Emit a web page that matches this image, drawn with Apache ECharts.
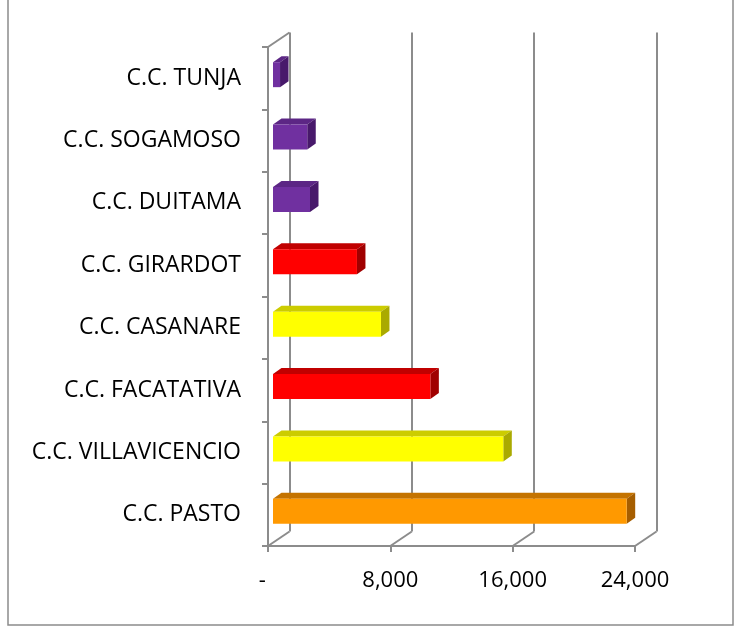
<!DOCTYPE html>
<html>
<head>
<meta charset="utf-8">
<script src="https://cdn.jsdelivr.net/npm/echarts@6/dist/echarts.min.js"></script>
<style>
html,body{margin:0;padding:0;background:#fff;}
#chart{width:740px;height:629px;}
</style>
</head>
<body>
<div id="chart"></div>
<script>
// ---- data ----
const categories = ['C.C. TUNJA','C.C. SOGAMOSO','C.C. DUITAMA','C.C. GIRARDOT','C.C. CASANARE','C.C. FACATATIVA','C.C. VILLAVICENCIO','C.C. PASTO'];
const values = [460, 2240, 2420, 5490, 7060, 10290, 15060, 23130];
const colorGroups = ['purple','purple','purple','red','yellow','red','yellow','orange'];
const xTicks = [0, 8000, 16000, 24000];

// ---- styles / layout ----
const shades = {
  purple: {front:'#7030A0', top:'#5C2685', side:'#48196B'},
  red:    {front:'#FF0000', top:'#C00000', side:'#A00000'},
  yellow: {front:'#FFFF00', top:'#CCCC00', side:'#AAAA00'},
  orange: {front:'#FF9900', top:'#C47300', side:'#A65E00'}
};
const GRID = {left:268, top:47, width:367, height:499};
const DX = 21.5, DY = -14.5;        // wall depth offset
const FDX = 5, FDY = -3.5;          // bar front face offset
const BDX = 8.5, BDY = -6;          // bar depth
const LINE = '#8C8C8C';
const FONT = 'Open Sans';

const chart = echarts.init(document.getElementById('chart'));

function fmt(v){ return v === 0 ? '-  ' : v.toLocaleString('en-US'); }

const option = {
  backgroundColor:'#fff',
  animation:false,
  graphic:[{type:'rect', shape:{x:8, y:-5, width:725, height:630}, style:{fill:'none', stroke:'#8C8C8C', lineWidth:1.5}, silent:true}],
  grid:[
    {left:GRID.left, top:GRID.top, width:GRID.width, height:GRID.height, containLabel:false, outerBoundsMode:'none'},
    {left:GRID.left+DX, top:GRID.top+DY, width:GRID.width, height:GRID.height, containLabel:false, outerBoundsMode:'none'}
  ],
  xAxis:[
    {gridIndex:0, type:'value', min:0, max:24000, interval:8000,
     axisLine:{show:true, lineStyle:{color:LINE, width:2}},
     axisTick:{show:true, length:6, lineStyle:{color:LINE, width:2}},
     splitLine:{show:false},
     axisLabel:{formatter:fmt, color:'#000', fontFamily:FONT, fontSize:22, margin:24}},
    {gridIndex:1, type:'value', min:0, max:24000, interval:8000,
     axisLine:{show:false}, axisTick:{show:false}, axisLabel:{show:false},
     splitLine:{show:true, lineStyle:{color:LINE, width:2}}}
  ],
  yAxis:[
    {gridIndex:0, type:'category', data:categories, inverse:true,
     axisLine:{show:true, lineStyle:{color:LINE, width:2}},
     axisTick:{show:true, length:6, lineStyle:{color:LINE, width:2}},
     splitLine:{show:false},
     axisLabel:{color:'#000', fontFamily:FONT, fontSize:23, margin:27, padding:[7,0,0,0]}},
    {gridIndex:1, type:'category', data:categories, inverse:true,
     axisLine:{show:false}, axisTick:{show:false}, axisLabel:{show:false}, splitLine:{show:false}}
  ],
  series:[
    {
      type:'custom', xAxisIndex:0, yAxisIndex:0, z:1,
      data: xTicks.map(v => [v, 0]),
      encode:{x:0, y:1},
      renderItem(params, api){
        const cs = params.coordSys;
        const v = api.value(0);
        const x = api.coord([v, 0])[0];
        const yb = cs.y + cs.height;
        const children = [{type:'line', shape:{x1:x, y1:yb, x2:x+DX, y2:yb+DY}, style:{stroke:LINE, lineWidth:2}}];
        if (params.dataIndex === 0) {
          children.push({type:'line', shape:{x1:x, y1:cs.y, x2:x+DX, y2:cs.y+DY}, style:{stroke:LINE, lineWidth:2}});
        }
        return {type:'group', children};
      }
    },
    {
      type:'custom', xAxisIndex:0, yAxisIndex:0, z:5,
      data: values.map((v,i) => [v, i]),
      encode:{x:0, y:1},
      renderItem(params, api){
        const v = api.value(0), i = api.value(1);
        const p0 = api.coord([0, i]);
        const p1 = api.coord([v, i]);
        const band = api.size([0, 1])[1];
        const h = band * 0.4;
        const x0 = p0[0] + FDX, x1 = p1[0] + FDX;
        const yT = p0[1] + FDY - h/2, yB = yT + h;
        const c = shades[colorGroups[i]];
        return {type:'group', children:[
          {type:'polygon', shape:{points:[[x0,yT],[x1,yT],[x1+BDX,yT+BDY],[x0+BDX,yT+BDY]]}, style:{fill:c.top}},
          {type:'polygon', shape:{points:[[x1,yT],[x1+BDX,yT+BDY],[x1+BDX,yB+BDY],[x1,yB]]}, style:{fill:c.side}},
          {type:'rect', shape:{x:x0, y:yT, width:x1-x0, height:h}, style:{fill:c.front}}
        ]};
      }
    }
  ]
};
chart.setOption(option);
</script>
</body>
</html>
